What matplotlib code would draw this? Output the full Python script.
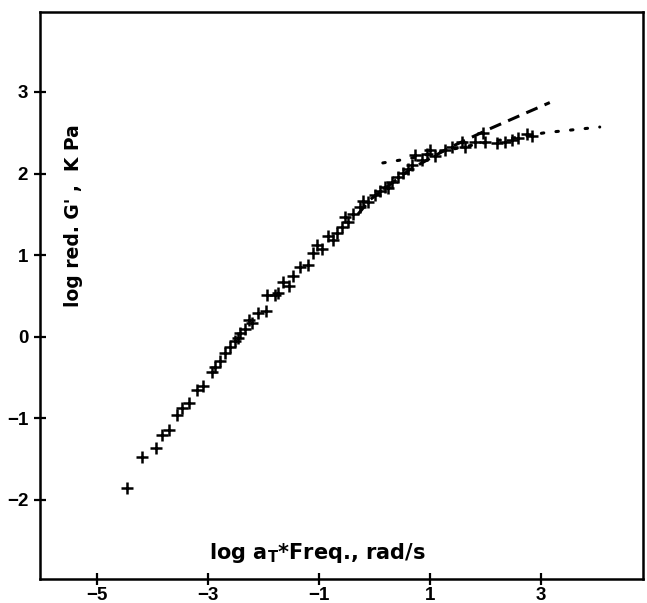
import matplotlib
matplotlib.use("Agg")
import matplotlib.pyplot as plt
import numpy as np

# measured data (log aT*freq, log reduced G')
x_data = [-4.46, -4.19, -3.94, -3.83, -3.70, -3.56, -3.47, -3.34, -3.20, -3.09,
          -2.93, -2.87, -2.69, -2.60, -2.46, -2.42, -2.33, -2.21, -2.10, -1.95,
          -1.94, -1.79, -1.74, -1.65, -1.47, -1.34, -1.20, -1.11, -0.95, -0.84,
          -0.68, -0.59, -0.53, -0.48, -0.39, -0.26, -0.12, 0.01, 0.10, 0.19,
          0.32, 0.42, 0.51, 0.60, 0.73, 0.86, 1.00, 1.09, 1.27, 1.40,
          1.58, 1.63, 1.81, 1.95, 1.99, 2.21, 2.35, 2.48, 2.59, 2.75, 2.84,
          -2.78, -2.52, -2.27, -1.55, -1.03, -0.75, -0.20, 0.25, 0.68, 0.95]
y_data = [-1.85, -1.48, -1.37, -1.21, -1.14, -0.96, -0.88, -0.81, -0.65, -0.60,
          -0.43, -0.37, -0.20, -0.13, -0.02, 0.05, 0.10, 0.17, 0.29, 0.32,
          0.51, 0.51, 0.54, 0.67, 0.74, 0.85, 0.88, 1.03, 1.07, 1.23,
          1.27, 1.34, 1.47, 1.41, 1.50, 1.59, 1.65, 1.74, 1.78, 1.84,
          1.90, 1.96, 2.01, 2.05, 2.23, 2.17, 2.29, 2.21, 2.29, 2.32,
          2.39, 2.33, 2.39, 2.50, 2.39, 2.38, 2.39, 2.41, 2.44, 2.48, 2.46,
          -0.30, -0.05, 0.20, 0.62, 1.12, 1.18, 1.66, 1.82, 2.10, 2.24]

# model curves
dash_x = [-0.30, -0.08, 0.64, 1.36, 2.05, 2.62, 3.16]
dash_y = [1.50, 1.68, 2.05, 2.32, 2.54, 2.71, 2.87]
dot_x = [0.15, 0.60, 1.20, 2.00, 3.07, 4.06]
dot_y = [2.13, 2.18, 2.27, 2.38, 2.50, 2.57]

x_ticks = [-5, -3, -1, 1, 3]
y_ticks = [-2, -1, 0, 1, 2, 3]

plt.rcParams['font.family'] = ['Liberation Sans', 'DejaVu Sans']

fig = plt.figure(figsize=(6.47, 6.03), dpi=100)
ax = fig.add_axes([40/647, 24/603, 603/647, 567/603])

ax.plot(dash_x, dash_y, linestyle=(0, (4, 2.5)), color='black', linewidth=2.2)
ax.plot(dot_x, dot_y, linestyle=(0, (0.8, 4)), color='black', linewidth=2.2,
        dash_capstyle='round')
ax.plot(x_data, y_data, linestyle='none', marker='+', markersize=8.5,
        markeredgewidth=1.8, color='black')

ax.set_xlim(-6.03, 4.84)
ax.set_ylim(-2.97, 3.98)
ax.set_xticks(x_ticks)
ax.set_yticks(y_ticks)
ax.set_xticklabels(['\u2212' + str(-t) if t < 0 else str(t) for t in x_ticks],
                   fontweight='bold', family=['Liberation Sans', 'DejaVu Sans'])
ax.set_yticklabels(['\u2212' + str(-t) if t < 0 else str(t) for t in y_ticks],
                   fontweight='bold', family=['Liberation Sans', 'DejaVu Sans'])
ax.tick_params(direction='inout', length=9, width=1.6, labelsize=13.5)
ax.tick_params(axis='y', pad=4)
ax.tick_params(axis='x', pad=1)
for s in ax.spines.values():
    s.set_linewidth(1.8)

ax.text(0.056, 0.64, "log red. G' ,  K Pa", transform=ax.transAxes, rotation=90,
        ha='center', va='center', fontsize=13.5, fontweight='bold',
        family='DejaVu Sans')
ax.text(0.46, 0.046, r"log a$_{\mathbf{T}}$*Freq., rad/s", transform=ax.transAxes,
        ha='center', va='center', fontsize=15, fontweight='bold',
        family='DejaVu Sans')

fig.savefig("out.png", dpi=100)
